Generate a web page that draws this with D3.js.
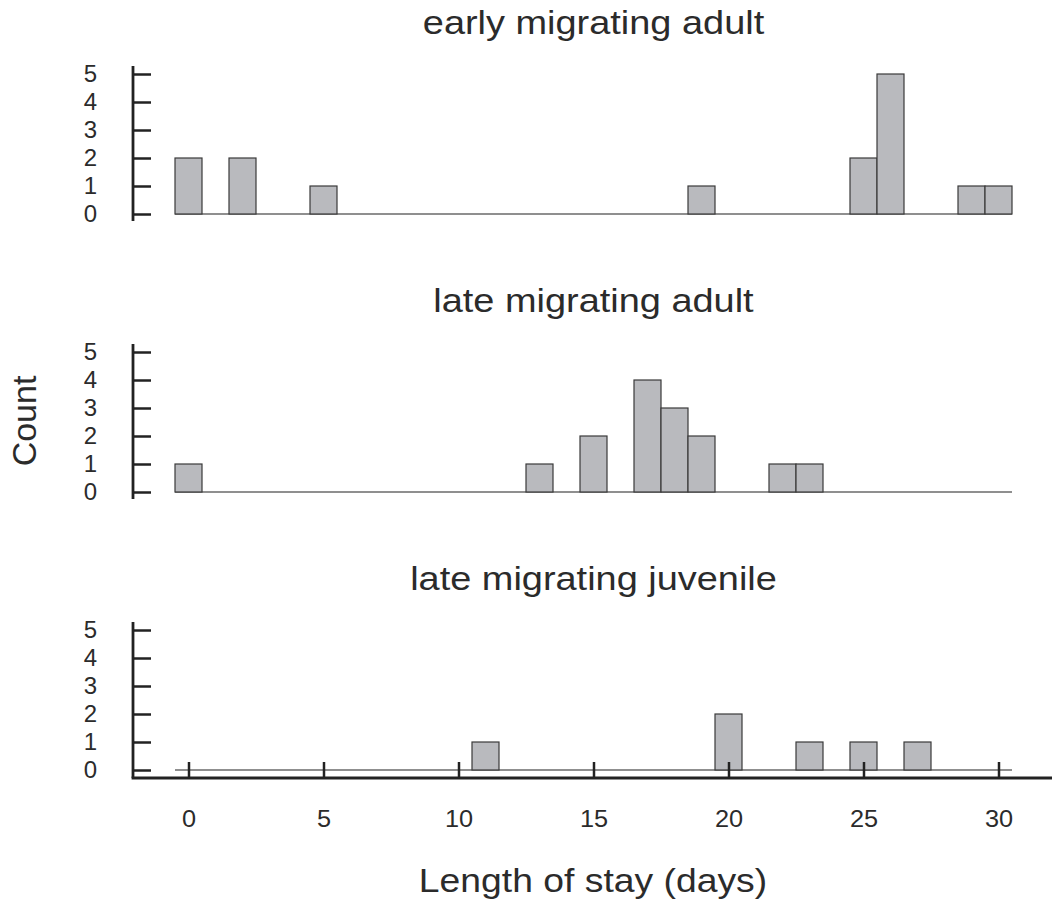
<!DOCTYPE html>
<html>
<head>
<meta charset="utf-8">
<script src="https://cdn.jsdelivr.net/npm/d3@7"></script>
<style>
  body { margin: 0; background: #fff; }
  text { font-family: "Liberation Sans", Arial, Helvetica, sans-serif; fill: #2b2b2b; }
</style>
</head>
<body>
<div id="chart"></div>
<script>
// panel titles
var groups = ["early migrating adult", "late migrating adult", "late migrating juvenile"];

// length of stay (days) with non-zero counts, per group
var earlyAdultDays = [0, 2, 5, 19, 25, 26, 29, 30];
var earlyAdultCounts = [2, 2, 1, 1, 2, 5, 1, 1];

var lateAdultDays = [0, 13, 15, 17, 18, 19, 22, 23];
var lateAdultCounts = [1, 1, 2, 4, 3, 2, 1, 1];

var lateJuvDays = [11, 20, 23, 25, 27];
var lateJuvCounts = [1, 2, 1, 1, 1];

var yTicks = [0, 1, 2, 3, 4, 5];
var xTicks = [0, 5, 10, 15, 20, 25, 30];

var svgWidth = 1056;
var svgHeight = 899;

var svg = d3.select("#chart")
  .append("svg")
  .attr("width", svgWidth)
  .attr("height", svgHeight);

var x = d3.scaleLinear()
  .domain([0, 30])
  .range([188.5, 998.5]);

// the original figure is a bit wider than tall, so stretch text sideways
function stretch(sel, k) {
  sel.each(function() {
    var len = this.getComputedTextLength();
    d3.select(this)
      .attr("textLength", len * k)
      .attr("lengthAdjust", "spacingAndGlyphs");
  });
}

var panelData = [
  d3.zip(earlyAdultDays, earlyAdultCounts),
  d3.zip(lateAdultDays, lateAdultCounts),
  d3.zip(lateJuvDays, lateJuvCounts)
];

var axisX = 133;
var panelStep = 278;

panelData.forEach(function(data, i) {
  var base = 214 + i * panelStep;
  var y = d3.scaleLinear()
    .domain([0, 5])
    .range([base, base - 140]);

  var g = svg.append("g");

  // title
  g.append("text")
    .attr("x", (x(-0.5) + x(30.5)) / 2)
    .attr("y", base - 180)
    .attr("text-anchor", "middle")
    .attr("font-size", 34)
    .text(groups[i])
    .call(stretch, 1.115);

  // grey baseline at zero
  g.append("line")
    .attr("x1", x(-0.5))
    .attr("x2", x(30.5))
    .attr("y1", y(0))
    .attr("y2", y(0))
    .attr("stroke", "#6a6a6a")
    .attr("stroke-width", 1.5);

  // bars
  g.selectAll("rect.bar")
    .data(data)
    .enter()
    .append("rect")
    .attr("class", "bar")
    .attr("x", d => x(d[0] - 0.5))
    .attr("width", d => x(d[0] + 0.5) - x(d[0] - 0.5))
    .attr("y", d => y(d[1]))
    .attr("height", d => y(0) - y(d[1]))
    .attr("fill", "#b9babe")
    .attr("stroke", "#3a3a3a")
    .attr("stroke-width", 1.2);

  // y axis: ticks point inward, labels left
  var leftAxis = d3.axisLeft(y)
    .tickValues(yTicks)
    .tickFormat(d3.format("d"))
    .tickSizeInner(-18)
    .tickSizeOuter(0)
    .tickPadding(36);

  var yAxis = g.append("g")
    .attr("transform", `translate(${axisX}, 0)`)
    .call(leftAxis);
  yAxis.select(".domain").remove();
  yAxis.selectAll(".tick line")
    .attr("stroke", "#222")
    .attr("stroke-width", 2.5);
  yAxis.selectAll(".tick text")
    .attr("font-size", 24)
    .attr("font-family", "Liberation Sans, Arial, sans-serif")
    .attr("fill", "#2b2b2b");

  var bottomEnd = (i === 2) ? base + 8 : base + 7;
  g.append("line")
    .attr("x1", axisX)
    .attr("x2", axisX)
    .attr("y1", y(5) - 8)
    .attr("y2", bottomEnd)
    .attr("stroke", "#222")
    .attr("stroke-width", 2.8);
});

// shared x axis under the last panel
var xAxisY = 214 + 2 * panelStep + 8;

var bottomAxis = d3.axisBottom(x)
  .tickValues(xTicks)
  .tickSizeInner(-16)
  .tickSizeOuter(0)
  .tickPadding(33);

var xAxis = svg.append("g")
  .attr("transform", `translate(0, ${xAxisY})`)
  .call(bottomAxis);
xAxis.select(".domain").remove();
xAxis.selectAll(".tick line")
  .attr("stroke", "#222")
  .attr("stroke-width", 2.5);
xAxis.selectAll(".tick text")
  .attr("font-size", 23)
  .attr("font-family", "Liberation Sans, Arial, sans-serif")
  .attr("fill", "#2b2b2b")
  .call(stretch, 1.1);

svg.append("line")
  .attr("x1", axisX - 1.4)
  .attr("x2", 1052)
  .attr("y1", xAxisY)
  .attr("y2", xAxisY)
  .attr("stroke", "#222")
  .attr("stroke-width", 2.8);

// axis titles
svg.append("text")
  .attr("x", 593)
  .attr("y", 892)
  .attr("text-anchor", "middle")
  .attr("font-size", 33)
  .text("Length of stay (days)")
  .call(stretch, 1.13);

svg.append("text")
  .attr("transform", "translate(36, 421) rotate(-90)")
  .attr("text-anchor", "middle")
  .attr("font-size", 34)
  .text("Count");
</script>
</body>
</html>
